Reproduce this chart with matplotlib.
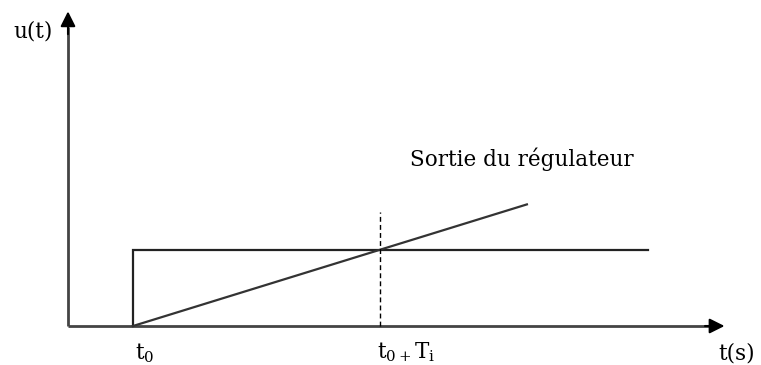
import matplotlib
matplotlib.use("Agg")
import matplotlib.pyplot as plt

plt.rcParams['font.family'] = ['DejaVu Serif']
plt.rcParams['mathtext.fontset'] = 'dejavuserif'

# Data (arbitrary units)
t0 = 1.0
Ti = 3.8
step_t = [t0, t0, 8.92]
step_u = [0.0, 1.0, 1.0]
ramp_t = [t0, 7.06]
ramp_u = [0.0, 1.6]
dash_t = [t0 + Ti, t0 + Ti]
dash_u = [0.0, 1.5]
x_axis_end = 10.1
y_axis_end = 4.14
label_output = "Sortie du régulateur"
tick_labels = [r"t$_0$", r"t$_{0+}$T$_\mathrm{i}$"]

fig = plt.figure(figsize=(7.61, 3.65), dpi=100)
ax = fig.add_axes([0, 0, 1, 1])
ax.set_xlim(-68/65, 693/65)
ax.set_ylim(-39/76, 326/76)
ax.axis('off')

axis_color = '#444444'
ax.plot([0, x_axis_end - 0.2], [0, 0], color=axis_color, lw=2.0, solid_capstyle='butt')
ax.plot([0, 0], [0, y_axis_end - 0.2], color=axis_color, lw=2.0, solid_capstyle='butt')
ax.annotate('', xy=(x_axis_end, 0), xytext=(x_axis_end - 0.3, 0),
            arrowprops=dict(arrowstyle='-|>,head_length=0.9,head_width=0.45', color='black', lw=1.5,
                            shrinkA=0, shrinkB=0))
ax.annotate('', xy=(0, y_axis_end), xytext=(0, y_axis_end - 0.3),
            arrowprops=dict(arrowstyle='-|>,head_length=0.9,head_width=0.45', color='black', lw=1.5,
                            shrinkA=0, shrinkB=0))

ax.plot(step_t, step_u, color='#222222', lw=1.6, solid_joinstyle='miter')
ax.plot(ramp_t, ramp_u, color='#333333', lw=1.6)
ax.plot(dash_t, dash_u, color='black', lw=1.0, linestyle=(0, (3.5, 2.3)))

fs = 15.5
ax.text(-0.54, 3.88, "u(t)", fontsize=fs, ha='center', va='center')
ax.text(10.0, -0.36, "t(s)", fontsize=fs, ha='left', va='center')
ax.text(t0 + 0.03, -0.36, tick_labels[0], fontsize=fs, ha='left', va='center')
ax.text(t0 + Ti - 0.05, -0.34, tick_labels[1], fontsize=fs, ha='left', va='center')
ax.text(5.26, 2.2, label_output, fontsize=fs, ha='left', va='center')

fig.savefig("out.png", dpi=100)
